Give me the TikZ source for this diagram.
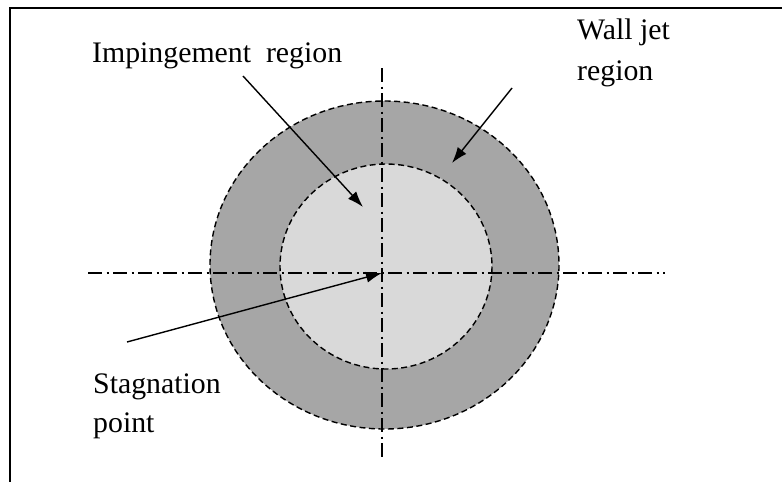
\documentclass[tikz,border=0pt]{standalone}
\usepackage{fontspec}
\setmainfont{Liberation Serif}
\usetikzlibrary{arrows.meta}
\definecolor{ring}{HTML}{A6A6A6}
\definecolor{core}{HTML}{D9D9D9}
\begin{document}
\begin{tikzpicture}[x=1pt,y=-1pt,
  lbl/.style={inner sep=0pt, anchor=base west, align=left, font=\fontsize{29.8}{40}\selectfont},
  region/.style={draw=black, line width=1.4pt, dash pattern=on 6pt off 3.5pt},
  axis/.style={line width=1.4pt, dash pattern=on 14pt off 4.5pt on 2pt off 4.5pt},
  pointer/.style={line width=1.4pt, -{Latex[length=16pt,width=11pt]}},
  frame/.style={line width=1.5pt}]
\useasboundingbox (0,0) rectangle (782,482);
\draw[frame] (782,8) -- (10,8) -- (10,482);
\coordinate (oc) at (384.5,265);
\coordinate (ic) at (386,266.5);
\filldraw[region, fill=ring] (oc) ellipse [x radius=174.5, y radius=164];
\filldraw[region, fill=core] (ic) ellipse [x radius=106, y radius=102.5];
\coordinate (hL) at (88,273);
\coordinate (hR) at (665,273);
\coordinate (vT) at (382,68);
\coordinate (vB) at (382,457);
\draw[axis] (hL) -- (hR);
\draw[axis] (vT) -- (vB);
\node[lbl] (imp) at (92,62) {Impingement~~region};
\node[lbl, font=\fontsize{29.8}{41}\selectfont] (wj) at (577,80) {Wall jet\\region};
\node[lbl, font=\fontsize{29.8}{39}\selectfont] (st) at (93,432) {Stagnation\\point};
\coordinate (impS) at (243,76);
\coordinate (impT) at (363,207);
\coordinate (wjS) at (512,88);
\coordinate (wjT) at (452,163);
\coordinate (stS) at (127,342);
\coordinate (stP) at (382,273);
\draw[pointer] (impS) -- (impT);
\draw[pointer] (wjS) -- (wjT);
\draw[pointer] (stS) -- (stP);
\end{tikzpicture}
\end{document}
